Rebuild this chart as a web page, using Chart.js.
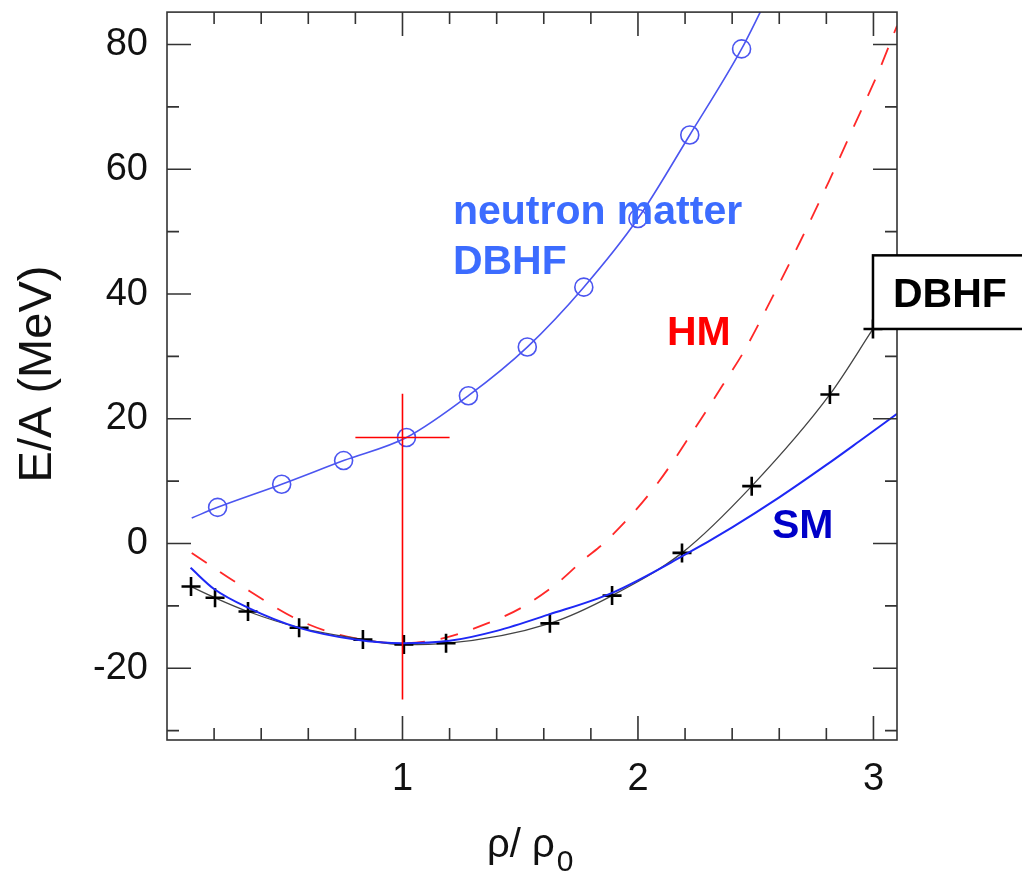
<!DOCTYPE html>
<html>
<head>
<meta charset="utf-8">
<script src="https://cdn.jsdelivr.net/npm/chart.js@4.4.1/dist/chart.umd.min.js"></script>
<style>
  html, body { margin: 0; padding: 0; background: #fff; }
  #grafico { display: block; }
</style>
</head>
<body>
<canvas id="grafico" width="1022" height="875"></canvas>
<script>
// eixos
const xTicks = [1, 2, 3];
const yTicks = [-20, 0, 20, 40, 60, 80];

// neutron matter DBHF (circulos)
const nmX = [0.215, 0.487, 0.75, 1.017, 1.28, 1.53, 1.77, 2.0, 2.22, 2.44];
const nmY = [5.8, 9.5, 13.3, 17.0, 23.7, 31.5, 41.1, 52.1, 65.5, 79.3];

// curva ajustada neutron matter
const nmCurveX = [0.105, 0.215, 0.487, 0.75, 1.017, 1.28, 1.53, 1.77, 2.0, 2.22, 2.44, 2.53];
const nmCurveY = [4.1, 5.8, 9.5, 13.3, 17.0, 23.7, 31.5, 41.1, 52.1, 65.5, 79.3, 86];

// materia simetrica DBHF (cruzes)
const dbhfX = [0.102, 0.204, 0.344, 0.561, 0.832, 1.006, 1.185, 1.626, 1.89, 2.187, 2.483, 2.815, 2.998];
const dbhfY = [-6.9, -8.7, -10.9, -13.5, -15.4, -16.2, -16.0, -12.8, -8.35, -1.5, 9.2, 23.9, 34.4];

// SM
const smX = [0.1, 0.2, 0.35, 0.55, 0.8, 1.0, 1.2, 1.4, 1.62, 1.89, 2.19, 2.4, 2.6, 2.8, 2.94, 3.1];
const smY = [-3.9, -7.3, -10.4, -13.4, -15.4, -16.0, -15.6, -14.0, -11.4, -7.9, -2.0, 2.6, 7.4, 12.6, 16.4, 20.8];

// HM (tracejada)
const hmX = [0.105, 0.3, 0.55, 0.71, 0.9, 1.0, 1.17, 1.36, 1.5, 1.656, 1.766, 1.868, 2.07, 2.27, 2.36, 2.45, 2.56, 2.69, 2.81, 2.91, 3.02, 3.1];
const hmY = [-1.5, -6.4, -12.1, -14.4, -15.8, -16.0, -15.2, -12.8, -10.4, -6.4, -2.7, 0.5, 9.0, 20.1, 25.4, 30.8, 38.7, 48.5, 58.0, 66.3, 75.5, 83.0];

// barra de erro na saturacao
const errHX = [0.8, 1.2];
const errHY = [17, 17];
const errVX = [1, 1];
const errVY = [-25, 24];

const paleta = {
    neutron: 'rgb(75, 85, 240)',
    sm: 'rgb(30, 40, 245)',
    hm: 'rgb(255, 40, 40)',
    preto: '#000',
    cinza: '#444',
    vermelho: 'rgb(255, 0, 0)',
    txtAzul: 'rgb(60, 108, 255)',
    txtSM: 'rgb(0, 0, 200)'
};

const FONTE = '"Liberation Sans", Arial, sans-serif';
Chart.defaults.font.family = FONTE;
Chart.defaults.color = '#111';

const pts = (xs, ys) => xs.map((x, i) => ({ x: x, y: ys[i] }));

// moldura e marcas para dentro, nos quatro lados
const moldura = {
    id: 'moldura',
    afterDatasetsDraw(chart) {
        const { ctx, chartArea: a, scales: { x, y } } = chart;
        ctx.save();
        ctx.strokeStyle = '#333';
        ctx.lineWidth = 1.6;
        ctx.beginPath();
        for (let i = 1; i <= 15; i++) {
            const px = x.getPixelForValue(i * 0.2);
            const len = i % 5 === 0 ? 24 : 12;
            ctx.moveTo(px, a.bottom); ctx.lineTo(px, a.bottom - len);
            ctx.moveTo(px, a.top); ctx.lineTo(px, a.top + len);
        }
        for (let v = -30; v <= 80; v += 10) {
            const py = y.getPixelForValue(v);
            const len = v % 20 === 0 ? 24 : 12;
            ctx.moveTo(a.left, py); ctx.lineTo(a.left + len, py);
            ctx.moveTo(a.right, py); ctx.lineTo(a.right - len, py);
        }
        ctx.stroke();
        ctx.strokeRect(a.left, a.top, a.right - a.left, a.bottom - a.top);
        ctx.restore();
    },
    afterDraw(chart) {
        const { ctx, chartArea: a, scales: { x, y } } = chart;
        ctx.save();
        ctx.textBaseline = 'alphabetic';
        ctx.textAlign = 'left';

        // rotulos das curvas
        ctx.font = 'bold 41px ' + FONTE;
        ctx.fillStyle = paleta.txtAzul;
        ctx.fillText('neutron matter', x.getPixelForValue(1.214), y.getPixelForValue(51.2));
        ctx.fillText('DBHF', x.getPixelForValue(1.214), y.getPixelForValue(43.2));
        ctx.fillStyle = paleta.vermelho;
        ctx.fillText('HM', x.getPixelForValue(2.123), y.getPixelForValue(31.9));
        ctx.fillStyle = paleta.txtSM;
        ctx.fillText('SM', x.getPixelForValue(2.569), y.getPixelForValue(0.9));

        // caixa DBHF
        const bx = x.getPixelForValue(2.998), bt = y.getPixelForValue(46.2), bb = y.getPixelForValue(34.4);
        ctx.fillStyle = '#fff';
        ctx.fillRect(bx, bt, chart.width - bx + 5, bb - bt);
        ctx.strokeStyle = '#000';
        ctx.lineWidth = 2.5;
        ctx.strokeRect(bx, bt, chart.width - bx + 5, bb - bt);
        ctx.fillStyle = '#000';
        ctx.fillText('DBHF', x.getPixelForValue(3.083), y.getPixelForValue(38.0));

        // titulo eixo y
        ctx.save();
        ctx.translate(38, 374);
        ctx.rotate(-Math.PI / 2);
        ctx.textAlign = 'center';
        ctx.textBaseline = 'middle';
        ctx.font = '47px ' + FONTE;
        ctx.fillStyle = '#111';
        ctx.fillText('E/A (MeV)', 0, 0);
        ctx.restore();

        // titulo eixo x
        ctx.font = '40px ' + FONTE;
        ctx.fillStyle = '#111';
        const tx = 487;
        ctx.fillText('ρ/ ρ', tx, 857);
        const w = ctx.measureText('ρ/ ρ').width;
        ctx.font = '30px ' + FONTE;
        ctx.fillText('0', tx + w + 2, 871);
        ctx.restore();
    }
};

const linha = (data, cor, largura, extra) => Object.assign({
    data: data,
    borderColor: cor,
    borderWidth: largura,
    pointRadius: 0,
    fill: false,
    cubicInterpolationMode: 'monotone'
}, extra || {});

new Chart(document.getElementById('grafico'), {
    type: 'line',
    data: {
        datasets: [
            linha(pts(errHX, errHY), paleta.vermelho, 1.6, { order: 1, cubicInterpolationMode: 'default' }),
            linha(pts(errVX, errVY), paleta.vermelho, 1.6, { order: 1, cubicInterpolationMode: 'default' }),
            linha(pts(nmX, nmY), paleta.neutron, 1.6, {
                showLine: false, pointStyle: 'circle', pointRadius: 9,
                pointBorderColor: paleta.neutron, pointBorderWidth: 1.6,
                pointBackgroundColor: 'rgba(0,0,0,0)', order: 2
            }),
            linha(pts(nmCurveX, nmCurveY), paleta.neutron, 1.6, { order: 3 }),
            linha(pts(smX, smY), paleta.sm, 2, { order: 4 }),
            linha(pts(dbhfX, dbhfY), paleta.cinza, 1.3, {
                pointStyle: 'cross', pointRadius: 9.5,
                pointBorderColor: paleta.preto, pointBorderWidth: 2.6, order: 5
            }),
            linha(pts(hmX, hmY), paleta.hm, 1.8, { borderDash: [18, 16], order: 6 })
        ]
    },
    options: {
        responsive: false,
        animation: false,
        events: [],
        layout: { padding: { top: 9, right: 125, left: 0, bottom: 0 } },
        plugins: {
            legend: { display: false },
            tooltip: { enabled: false }
        },
        scales: {
            x: {
                type: 'linear',
                min: 0,
                max: 3.1,
                afterBuildTicks: s => { s.ticks = xTicks.map(v => ({ value: v })); },
                afterFit: s => { s.height = 135; s.paddingLeft = 0; s.paddingRight = 0; },
                grid: { display: false, drawTicks: false },
                border: { display: false },
                ticks: { font: { size: 38 }, padding: 17, maxRotation: 0, autoSkip: false }
            },
            y: {
                type: 'linear',
                min: -31.5,
                max: 85.2,
                afterBuildTicks: s => { s.ticks = yTicks.map(v => ({ value: v })); },
                afterFit: s => { s.width = 167; s.paddingTop = 0; s.paddingBottom = 0; },
                grid: { display: false, drawTicks: false },
                border: { display: false },
                ticks: { font: { size: 38 }, padding: 19, autoSkip: false }
            }
        }
    },
    plugins: [moldura]
});
</script>
</body>
</html>
